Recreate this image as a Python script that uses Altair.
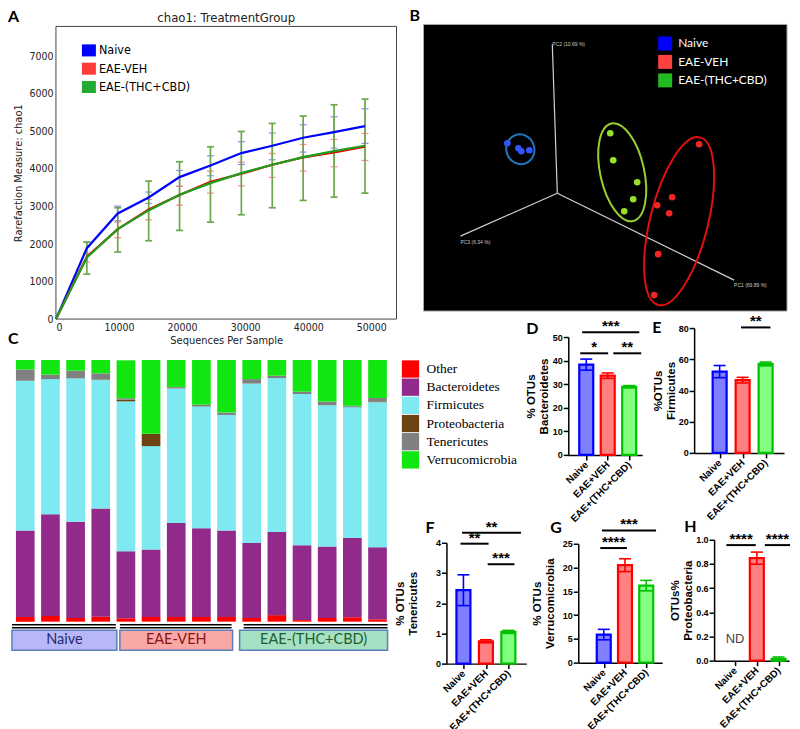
import altair as alt
import pandas as pd

# ============================ DATA ============================
# ---- Panel A : rarefaction (chao1) ----
depth = [0, 4900, 9800, 14700, 19600, 24500, 29400, 34300, 39200, 44100, 49000]
rare_groups = ["Naive", "EAE-VEH", "EAE-(THC+CBD)"]
naive_mean = [0, 1890, 2816, 3242, 3784, 4095, 4424, 4619, 4833, 4984, 5143]
naive_hi = [0, 2052, 3011, 3385, 3962, 4353, 4726, 4957, 5179, 5392, 5605]
naive_lo = [0, 1750, 2620, 3083, 3536, 3820, 4122, 4246, 4451, 4557, 4682]
veh_mean = [0, 1661, 2398, 2923, 3305, 3660, 3873, 4113, 4308, 4442, 4593]
veh_hi = [0, 1741, 2585, 3189, 3544, 3944, 4184, 4415, 4655, 4788, 4948]
veh_lo = [0, 1519, 2167, 2647, 3038, 3358, 3553, 3775, 3944, 4060, 4228]
thc_mean = [0, 1643, 2398, 2896, 3313, 3624, 3891, 4113, 4317, 4477, 4619]
thc_hi = [0, 2052, 2967, 3678, 4193, 4593, 5001, 5215, 5410, 5712, 5863]
thc_lo = [0, 1199, 1786, 2088, 2363, 2585, 2780, 2967, 3162, 3251, 3358]

# ---- Panel B : PCoA (projected coordinates) ----
pcoa_group = ["Naive"] * 4 + ["EAE-(THC+CBD)"] * 5 + ["EAE-VEH"] * 6
pcoa_x = [84, 95, 106, 98, 187, 190, 214, 210, 201, 276, 249, 234, 246, 235, 231]
pcoa_y = [119, 124, 126, 127, 109, 136, 158, 175, 187, 120, 173, 181, 189, 230, 271]
pc_names = ["PC1 (69.89 %)", "PC2 (10.69 %)", "PC3 (6.34 %)"]
pc_origin = (134, 169)
pc_end_x = [311, 129, 37]
pc_end_y = [256, 20, 212]
pc_label_y = [263, 22, 220]
ell_group = ["Naive", "EAE-(THC+CBD)", "EAE-VEH"]
ell_cx = [97, 199, 256]
ell_cy = [125, 148, 197]
ell_major = [30, 100, 173]
ell_minor = [28, 44, 58]
ell_tilt = [340, 347.5, 14]

# ---- Panel C : relative abundance per sample (%) ----
phyla = ["Other", "Bacteroidetes", "Firmicutes", "Proteobacteria", "Tenericutes", "Verrucomicrobia"]
pct_other = [1.8, 2.2, 1.4, 1.9, 1.3, 1.8, 1.8, 1.8, 1.8, 1.4, 2.5, 0.6, 1.4, 1.7, 0.9]
pct_bact = [33.0, 38.9, 36.8, 41.4, 25.6, 25.8, 35.9, 33.9, 33.0, 28.7, 31.8, 28.6, 27.3, 30.3, 27.5]
pct_firm = [57.3, 51.6, 54.8, 49.2, 57.3, 39.5, 51.5, 46.5, 44.2, 60.9, 58.8, 57.8, 54.0, 50.0, 55.5]
pct_prot = [0.0, 0.0, 0.0, 0.2, 0.6, 4.7, 0.3, 0.0, 0.0, 0.0, 0.0, 0.0, 0.0, 0.2, 0.3]
pct_tene = [4.3, 1.7, 2.9, 2.2, 0.6, 0.0, 0.2, 0.7, 0.9, 1.7, 0.9, 0.9, 1.4, 0.3, 1.3]
pct_verr = [3.6, 5.6, 4.1, 5.1, 14.5, 28.2, 10.3, 17.1, 20.1, 7.3, 6.0, 12.1, 15.9, 17.5, 14.5]
c_groups = ["Naive", "EAE-VEH", "EAE-(THC+CBD)"]
c_box_start = [-0.53, 3.76, 8.52]
c_box_end = [3.64, 8.24, 14.40]
c_line_start = [-0.53, 3.76, 8.68]
c_line_end = [3.60, 8.20, 14.40]

# ---- Panels D-H : mean +/- SEM ----
bar_cats = ["Naive", "EAE+VEH", "EAE+(THC+CBD)"]
bact_mean = [38.3, 33.6, 28.9]
bact_sem = [2.35, 1.15, 0.5]
firm_mean = [52.1, 46.6, 57.0]
firm_sem = [3.9, 1.8, 1.2]
tene_mean = [2.43, 0.74, 1.05]
tene_sem = [0.51, 0.05, 0.05]
verr_mean = [5.9, 20.5, 16.2]
verr_sem = [1.1, 1.35, 1.1]
prot_mean = [None, 0.848, 0.014]
prot_sem = [None, 0.05, 0.016]
# significance brackets: (from, to, height, label)
sig_D = [(-0.19, 2.47, 52.0, "***"), (-0.28, 1.02, 43.1, "*"), (1.26, 2.56, 43.1, "**")]
sig_E = [(0.93, 2.21, 80.4, "**")]
sig_F = [(-0.06, 2.56, 4.33, "**"), (-0.13, 1.12, 3.97, "**"), (1.08, 2.27, 3.29, "***")]
sig_G = [(-0.085, 2.46, 27.8, "***"), (-0.165, 1.09, 24.1, "****")]
sig_H = [(-0.4, 0.95, 0.956, "****"), (1.37, 2.53, 0.956, "****")]

# ============================ STYLE / GEOMETRY ============================
W, H = 784, 713          # one drawing area; every panel has its own scales inside it
OX, OY = 8, 8            # page margin


def xr(a, b):
    return [a - OX, b - OX]


def yr(bottom, top):
    return [bottom - OY, top - OY]


FA = "DejaVu Sans Condensed, DejaVu Sans"
FB = "Liberation Sans, Arial"
FL = "Lato, Liberation Sans"
FS = "Liberation Serif, Times New Roman"
LETTER = dict(font=FL, fontSize=16, fontWeight="bold", align="left", baseline="alphabetic", color="black")
legend3 = ["#0000ff", "#ff3b3b", "#22aa33"]


def text_layer(t, x, y, **kw):
    return alt.Chart(pd.DataFrame({"t": [t]})).mark_text(**kw).encode(
        text="t:N", x=alt.value(x - OX), y=alt.value(y - OY))


def letter_layer(t, x, y):
    return text_layer(t, x, y, **LETTER)


# ============================ PANEL A ============================
A_L, A_R, A_B, A_T = 56, 397, 318, 25
line_col = {"Naive": "#0000ff", "EAE-VEH": "#f00000", "EAE-(THC+CBD)": "#1e9e1e"}
err_col = {"Naive": "#8c8cff", "EAE-VEH": "#ff8c8c", "EAE-(THC+CBD)": "#6aa84a"}
err_w = {"Naive": 1.2, "EAE-VEH": 1.2, "EAE-(THC+CBD)": 1.7}
recA = []
for g, m, lo, hi in zip(rare_groups, [naive_mean, veh_mean, thc_mean],
                        [naive_lo, veh_lo, thc_lo], [naive_hi, veh_hi, thc_hi]):
    for d, mm, l, h in zip(depth, m, lo, hi):
        recA.append(dict(grp=g, depth=d, mean=mm, lo=l, hi=h))
dfA = pd.DataFrame(recA)

xsA = alt.Scale(domain=[0, 54000], range=xr(A_L, A_R), nice=False, zero=False)
ysA = alt.Scale(domain=[0, 7800], range=yr(A_B, A_T), nice=False, zero=False)
axA_x = alt.Axis(orient="bottom", offset=(A_B - OY) - H, values=[0, 10000, 20000, 30000, 40000, 50000],
                 format="d", title="Sequences Per Sample",
                 labelFont=FA, labelFontSize=10.5, labelColor="#222", labelPadding=3,
                 titleFont=FA, titleFontSize=11, titleFontWeight="normal", titleColor="#222",
                 titleY=15, domain=False, ticks=False, grid=False)
axA_y = alt.Axis(orient="left", offset=-(A_L - OX), values=list(range(0, 7001, 1000)), format="d",
                 title="Rarefaction Measure: chao1",
                 labelFont=FA, labelFontSize=10.5, labelColor="#222", labelPadding=3,
                 titleFont=FA, titleFontSize=11, titleFontWeight="normal", titleColor="#222",
                 titleX=-32, titleY=((A_B - OY) + (A_T - OY)) / 2, titleAngle=270, titleBaseline="bottom",
                 titleAlign="center", domain=False, ticks=False, grid=False)


def XA(f):
    return alt.X(f, type="quantitative", scale=xsA, axis=axA_x)


def YA(f):
    return alt.Y(f, type="quantitative", scale=ysA, axis=axA_y)


a_layers = [alt.Chart(pd.DataFrame({"x0": [0], "x1": [54000], "y0": [0], "y1": [7800]})).mark_rect(
    fill="white", stroke="#444", strokeWidth=1).encode(x=XA("x0"), x2="x1", y=YA("y0"), y2="y1")]
for g in rare_groups:
    d = dfA[(dfA["grp"] == g) & (dfA["depth"] > 0)]
    a_layers.append(alt.Chart(d).mark_rule(color=err_col[g], strokeWidth=err_w[g]).encode(
        x=XA("depth"), y=YA("lo"), y2="hi"))
    a_layers.append(alt.Chart(d).transform_fold(["lo", "hi"], as_=["k", "v"]).mark_tick(
        orient="horizontal", size=7, thickness=err_w[g], color=err_col[g], opacity=1).encode(
        x=XA("depth"), y=YA("v")))
for g in rare_groups:
    a_layers.append(alt.Chart(dfA[dfA["grp"] == g]).mark_line(color=line_col[g], strokeWidth=2.2).encode(
        x=XA("depth"), y=YA("mean")))
a_layers.append(alt.Chart(pd.DataFrame({"grp": rare_groups})).transform_filter("false").mark_square(
    opacity=1).encode(color=alt.Color("grp:N", scale=alt.Scale(domain=rare_groups, range=legend3),
                                      legend=alt.Legend(title=None, orient="none", legendX=82 - OX, legendY=42 - OY,
                                                        symbolType="M-1,-0.86H1V0.86H-1Z", symbolSize=196,
                                                        symbolStrokeWidth=0, symbolOpacity=1, labelFont=FA,
                                                        labelFontSize=12.5, labelColor="black", labelOffset=3,
                                                        rowPadding=4.3, padding=0))))
a_layers.append(text_layer("chao1: TreatmentGroup", (A_L + A_R) / 2, 21, font=FA, fontSize=13, color="#222",
                           align="center", baseline="alphabetic"))
a_layers.append(letter_layer("A", 8, 21))
panelA = alt.layer(*a_layers)

# ============================ PANEL B ============================
B_L, B_R, B_T, B_B = 424, 788, 23, 310
WB, HB = B_R - B_L, B_B - B_T
xsB = alt.Scale(domain=[0, WB], range=xr(B_L, B_R), nice=False, zero=False)
ysB = alt.Scale(domain=[0, HB], range=[B_T - OY, B_B - OY], nice=False, zero=False)


def XB(f):
    return alt.X(f, type="quantitative", scale=xsB, axis=None)


def YB(f):
    return alt.Y(f, type="quantitative", scale=ysB, axis=None)


pt_col = {"Naive": "#3553ff", "EAE-VEH": "#f02525", "EAE-(THC+CBD)": "#98e02a"}
ell_col = {"Naive": "#1f78c0", "EAE-VEH": "#e01010", "EAE-(THC+CBD)": "#9acd32"}
dfPC = pd.DataFrame({"name": pc_names, "x0": pc_origin[0], "y0": pc_origin[1],
                     "x1": pc_end_x, "y1": pc_end_y, "ly": pc_label_y})
dfPts = pd.DataFrame({"grp": pcoa_group, "x": pcoa_x, "y": pcoa_y})
dfPts["c"] = dfPts["grp"].map(pt_col)
dfEll = pd.DataFrame({"grp": ell_group, "cx": ell_cx, "cy": ell_cy, "ang": ell_tilt})
dfEll["shp"] = [f"M0,-1 A{mi / ma:.3f},1 0 1 1 0,1 A{mi / ma:.3f},1 0 1 1 0,-1 Z"
                for mi, ma in zip(ell_minor, ell_major)]
dfEll["sz"] = [ma * ma for ma in ell_major]
dfEll["c"] = dfEll["grp"].map(ell_col)

b_layers = [
    alt.Chart(pd.DataFrame({"x0": [0], "x1": [WB], "y0": [0], "y1": [HB]})).mark_rect(
        fill="black", stroke="#aaaaaa", strokeWidth=1).encode(x=XB("x0"), x2="x1", y=YB("y0"), y2="y1"),
    alt.Chart(dfPC).mark_rule(color="#d0d0d0", strokeWidth=1.2).encode(x=XB("x0"), y=YB("y0"), x2="x1", y2="y1"),
    alt.Chart(dfPC).mark_text(font=FB, fontSize=5, color="#c8c8c8", align="left", baseline="alphabetic").encode(
        x=XB("x1"), y=YB("ly"), text="name:N"),
    alt.Chart(dfEll).mark_point(filled=False, strokeWidth=2, opacity=1).encode(
        x=XB("cx"), y=YB("cy"), shape=alt.Shape("shp:N", scale=None), size=alt.Size("sz:Q", scale=None),
        angle=alt.Angle("ang:Q", scale=None), stroke=alt.Stroke("c:N", scale=None)),
    alt.Chart(dfPts).mark_circle(size=44, opacity=1).encode(
        x=XB("x"), y=YB("y"), fill=alt.Fill("c:N", scale=None)),
    alt.Chart(pd.DataFrame({"grp": rare_groups})).transform_filter("false").mark_square(opacity=1).encode(
        color=alt.Color("grp:N", scale=alt.Scale(domain=rare_groups, range=["#0000ff", "#ff4040", "#22bb22"]),
                        legend=alt.Legend(title=None, orient="none", legendX=B_L + 235 - OX,
                                          legendY=B_T + 12 - OY, symbolType="square",
                                          symbolSize=196, symbolStrokeWidth=0, symbolOpacity=1, labelFont=FL,
                                          labelFontSize=12, labelColor="white", labelOffset=6,
                                          rowPadding=4.5, padding=0))),
    letter_layer("B", 410, 20),
]
panelB = alt.layer(*b_layers)

# ============================ PANEL C ============================
C_L, C_R, C_B, C_T = 12, 388, 650, 359
HWC = 0.371
comp = dict(zip(phyla, [pct_other, pct_bact, pct_firm, pct_prot, pct_tene, pct_verr]))
recC = []
for i in range(len(pct_other)):
    cum = 0.0
    for p in phyla:
        v = comp[p][i]
        recC.append(dict(sample=i, phylum=p, x0=i - HWC, x1=i + HWC, y0=cum, y1=cum + v))
        cum += v
dfC = pd.DataFrame(recC)
phy_colors = ["#ff0000", "#912a8a", "#7ee9f1", "#6b4412", "#808080", "#11e611"]
box_fill = ["#b8b8f8", "#f9a8a8", "#a6e0c2"]
box_text = ["#1f2a6b", "#8b1414", "#1b5e30"]
xsC = alt.Scale(domain=[-0.528, 14.398], range=xr(C_L, C_R), nice=False, zero=False)
ysC = alt.Scale(domain=[-11.07, 100], range=yr(C_B, C_T), nice=False, zero=False)


def XC(f):
    return alt.X(f, type="quantitative", scale=xsC, axis=None)


def YC(f):
    return alt.Y(f, type="quantitative", scale=ysC, axis=None)


dfLines = pd.DataFrame([dict(xa=s, xe=e, ly=ly) for s, e in zip(c_line_start, c_line_end) for ly in (-1.15, -2.3)])
dfBox = pd.DataFrame({"name": c_groups, "xa": c_box_start, "xe": c_box_end, "fc": box_fill, "tc": box_text})
dfBox["yt"] = -3.3
dfBox["yb"] = -10.9
dfBox["ym"] = -7.1
dfBox["xm"] = (dfBox["xa"] + dfBox["xe"]) / 2

c_layers = [
    alt.Chart(dfC).mark_rect().encode(
        x=XC("x0"), x2="x1", y=YC("y0"), y2="y1",
        color=alt.Color("phylum:N", scale=alt.Scale(domain=phyla, range=phy_colors),
                        legend=alt.Legend(title=None, orient="none", legendX=402 - OX, legendY=359 - OY,
                                          symbolType="square", symbolSize=300, symbolStrokeWidth=0,
                                          symbolOpacity=1, labelFont=FS, labelFontSize=13.5, labelColor="black",
                                          labelOffset=7, rowPadding=0.2, padding=0, labelLimit=300))),
    alt.Chart(dfLines).mark_rule(color="black", strokeWidth=1.4).encode(x=XC("xa"), x2="xe", y=YC("ly")),
    alt.Chart(dfBox).mark_rect(stroke="#5b7fb8", strokeWidth=1.5).encode(
        x=XC("xa"), x2="xe", y=YC("yt"), y2="yb", fill=alt.Fill("fc:N", scale=None)),
    alt.Chart(dfBox).mark_text(font=FL, fontSize=14.5, align="center", baseline="middle").encode(
        x=XC("xm"), y=YC("ym"), text="name:N", fill=alt.Fill("tc:N", scale=None)),
    letter_layer("C", 8, 343),
]
panelC = alt.layer(*c_layers)

# ============================ PANELS D-H ============================
bar_fill = ["#7f7fff", "#ff8080", "#80ff80"]
bar_stroke = ["#0000ff", "#ff0000", "#00c000"]
BAR_PX = 14
TITLE_LH = 13
label_expr = "[" + ",".join(f"'{c}'" for c in bar_cats) + "][datum.value]"


def bar_panel(letter, lpos, mean, sem, ymax, ystep, yfmt, ytitle, title_x, xdom, box, sig, nd_y=None):
    xl, xrt, yb, yt = box
    step = (xrt - xl) / (xdom[1] - xdom[0])
    hw = BAR_PX / 2 / step
    rec = []
    for i, (c, m, s) in enumerate(zip(bar_cats, mean, sem)):
        ok = m is not None
        rec.append(dict(cat=c, xi=i, x0=i - hw, x1=i + hw, zero=0.0,
                        mean=m if ok else None, lo=(m - s) if ok else None, hi=(m + s) if ok else None,
                        fc=bar_fill[i], sc=bar_stroke[i]))
    df = pd.DataFrame(rec)
    nt = int(round(ymax / ystep))
    yvals = [round(k * ystep, 6) for k in range(nt + 1)]
    xs = alt.Scale(domain=xdom, range=xr(xl, xrt), nice=False, zero=False)
    ys = alt.Scale(domain=[0, ymax], range=yr(yb, yt), nice=False, zero=False)
    xax = alt.Axis(orient="bottom", offset=(yb - OY) - H, values=[0, 1, 2], labelExpr=label_expr, title=None,
                   labelAngle=315, labelAlign="right", labelBaseline="middle", labelFont=FB, labelFontSize=10,
                   labelFontWeight="bold", labelColor="black", labelPadding=3, labelFlush=False,
                   labelOverlap=False, tickSize=5, tickWidth=1.5, tickColor="black", domainColor="black",
                   domainWidth=1.5, grid=False)
    yax = alt.Axis(orient="left", offset=-(xl - OX), values=yvals, format=yfmt, title=ytitle,
                   titleX=title_x - TITLE_LH, titleY=((yb - OY) + (yt - OY)) / 2, titleAngle=270,
                   titleBaseline="bottom", titleAlign="center",
                   titleFont=FB, titleFontSize=11.5, titleFontWeight="bold", titleColor="black",
                   titleLineHeight=TITLE_LH,
                   labelFont=FB, labelFontSize=9, labelFontWeight="bold", labelColor="black", labelPadding=1,
                   tickSize=5, tickWidth=1.5, tickColor="black", domainColor="black", domainWidth=1.5,
                   grid=False)

    def X(f):
        return alt.X(f, type="quantitative", scale=xs, axis=xax)

    def Y(f):
        return alt.Y(f, type="quantitative", scale=ys, axis=yax)

    base = alt.Chart(df)
    sdf = pd.DataFrame([dict(xa=a, xb=b, ys=y, xm=(a + b) / 2, txt=t) for a, b, y, t in sig])
    layers = [
        base.mark_rect(strokeWidth=2.2).encode(
            x=X("x0"), x2="x1", y=Y("mean"), y2="zero",
            fill=alt.Fill("fc:N", scale=None), stroke=alt.Stroke("sc:N", scale=None)),
        base.mark_rule(strokeWidth=1.6).encode(x=X("xi"), y=Y("lo"), y2="hi", color=alt.Color("sc:N", scale=None)),
        base.transform_fold(["lo", "hi"], as_=["k", "v"]).mark_tick(
            orient="horizontal", size=12, thickness=1.6, opacity=1).encode(
            x=X("xi"), y=Y("v"), color=alt.Color("sc:N", scale=None)),
        alt.Chart(sdf).mark_rule(color="black", strokeWidth=2).encode(x=X("xa"), x2="xb", y=Y("ys")),
        alt.Chart(sdf).mark_text(font=FB, fontSize=15, fontWeight="bold", baseline="alphabetic", dy=-1,
                                 color="black").encode(x=X("xm"), y=Y("ys"), text="txt:N"),
        letter_layer(letter, lpos[0], lpos[1]),
    ]
    if nd_y is not None:
        layers.append(alt.Chart(pd.DataFrame({"t": ["ND"], "xi": [0], "y": [nd_y]})).mark_text(
            font=FB, fontSize=13, color="#444", align="center", baseline="middle").encode(
            x=X("xi"), y=Y("y"), text="t:N"))
    return alt.layer(*layers)


panelD = bar_panel("D", (527, 333), bact_mean, bact_sem, 50, 10, "d", ["% OTUs", "Bacteroidetes"], -19,
                   [-0.837, 2.605], (569, 643, 454, 336), sig_D)
panelE = bar_panel("E", (653, 332), firm_mean, firm_sem, 80, 20, "d", ["%OTUs", "Firmicutes"], -18,
                   [-1.11, 2.8], (695, 785, 452, 327), sig_E)
panelF = bar_panel("F", (426, 532), tene_mean, tene_sem, 4, 1, "d", ["% OTUs", "Tenericutes"], -28,
                   [-0.756, 2.8], (447, 527, 663, 542), sig_F)
panelG = bar_panel("G", (551, 532), verr_mean, verr_sem, 25, 5, "d", ["% OTUs", "Verrucomicrobia"], -23,
                   [-1.2, 2.75], (579, 663, 662, 543), sig_G)
panelH = bar_panel("H", (685, 531), prot_mean, prot_sem, 1.0, 0.2, ".1f", ["OTUs%", "Proteobacteria"], -21,
                   [-0.966, 2.48], (715, 790, 660, 539), sig_H, nd_y=0.18)

# ============================ ASSEMBLY ============================
chart = alt.layer(panelA, panelB, panelC, panelD, panelE, panelF, panelG, panelH).resolve_scale(
    x="independent", y="independent", color="independent").resolve_axis(
    x="independent", y="independent").resolve_legend(color="independent").properties(
    width=W, height=H, padding=0, background="white").configure_view(strokeWidth=0)

chart.save("out.html", embed_options={"renderer": "svg", "actions": False})
